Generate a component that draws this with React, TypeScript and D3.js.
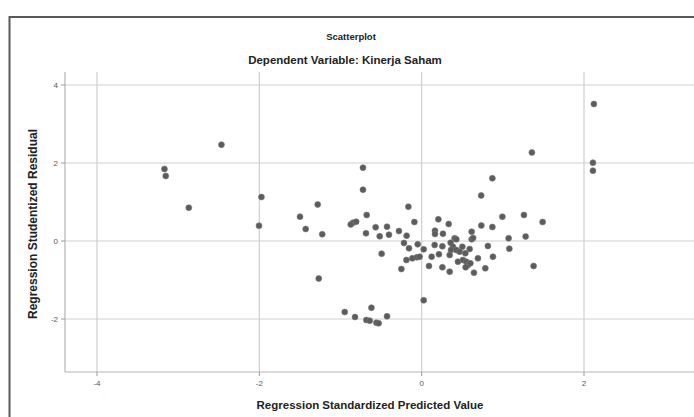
import React from "react";
import * as d3 from "d3";

const titleMain = "Scatterplot";
const titleSub = "Dependent Variable: Kinerja Saham";
const xLabel = "Regression Standardized Predicted Value";
const yLabel = "Regression Studentized Residual";
const xTicks = [-4, -2, 0, 2];
const yTicks = [-2, 0, 2, 4];

// predicted (standardized) values
const predicted = [
  -2.467, -3.169, -3.153, -2.869, -1.974, -2.004, -1.281, -1.499, -1.429, -1.225,
  -1.268, 1.358, -0.723, 0.871, -0.723, 0.733, -0.164, -0.677, 1.26, 0.994,
  -0.846, -0.807, -0.874, -0.09, 0.206, 0.333, 1.49, -0.567, -0.427, -0.686,
  -0.517, -0.403, -0.28, -0.185, 0.164, 0.164, 0.262, 0.735, 0.871, 0.616,
  0.616, 0.634, 1.071, 1.281, 0.406, 0.427, -0.218, -0.049, -0.156, 0.025,
  0.16, 0.255, 0.357, 0.385, 0.361, 0.427, 0.468, 0.501, 0.591, 0.816,
  1.08, -0.493, 0.213, 0.123, 0.345, 0.538, 0.693, 0.878, -0.188, -0.115,
  -0.058, -0.025, 0.447, 0.509, 0.55, 0.57, 0.6, 0.09, 0.255, 0.345,
  0.542, 0.784, 0.644, -0.25, 1.379, 0.025, -0.948, -0.619, -0.821, -0.681,
  -0.64, -0.558, -0.53, -0.427, 2.122, 2.11, 2.11,
];
// studentized residuals
const residual = [
  2.469, 1.846, 1.667, 0.854, 1.128, 0.392, 0.936, 0.623, 0.308, 0.172,
  -0.962, 2.269, 1.879, 1.608, 1.315, 1.167, 0.879, 0.667, 0.667, 0.623,
  0.469, 0.492, 0.423, 0.487, 0.556, 0.436, 0.487, 0.351, 0.367, 0.197,
  0.121, 0.162, 0.256, 0.136, 0.264, 0.179, 0.187, 0.397, 0.359, 0.238,
  0.044, 0.077, 0.069, 0.115, 0.069, 0.044, -0.051, -0.085, -0.187, -0.213,
  -0.103, -0.136, -0.044, -0.146, -0.231, -0.231, -0.274, -0.146, -0.205, -0.128,
  -0.197, -0.326, -0.341, -0.403, -0.359, -0.315, -0.444, -0.403, -0.487, -0.444,
  -0.418, -0.403, -0.531, -0.487, -0.531, -0.615, -0.572, -0.641, -0.674, -0.787,
  -0.674, -0.7, -0.813, -0.718, -0.641, -1.521, -1.821, -1.71, -1.949, -2.026,
  -2.044, -2.095, -2.11, -1.931, 3.513, 2.008, 1.803,
];

const W = 694;
const H = 417;
const FONT = "'Liberation Sans', Arial, sans-serif";

export default function App() {
  const x = d3.scaleLinear().domain([-4, 2]).range([97, 584]);
  const y = d3.scaleLinear().domain([-2, 4]).range([319, 85]);
  const left = 65, right = 710, top = 72, bottom = 372;
  const grid = "#cfcfcf";
  const points = predicted.map((p, i) => ({ px: x(p), py: y(residual[i]) }));
  return (
    <svg
      width={W}
      height={H}
      style={{ position: "fixed", left: 0, top: 0, background: "#fff" }}
      fontFamily={FONT}
    >
      <rect x={0} y={0} width={W} height={H} fill="#fff" />
      {/* outer frame */}
      <rect x={9.5} y={17} width={W + 20} height={H + 20} fill="none" stroke="#5a5a5a" strokeWidth={2} />
      <text x={351} y={40} textAnchor="middle" fontSize={9.5} fontWeight="bold" fill="#222">
        {titleMain}
      </text>
      <text x={345} y={64} textAnchor="middle" fontSize={11.5} fontWeight="bold" fill="#222">
        {titleSub}
      </text>
      {/* grid */}
      {xTicks.map((t) => (
        <line key={"gx" + t} x1={x(t)} x2={x(t)} y1={top} y2={bottom} stroke={grid} strokeWidth={1.2} />
      ))}
      {yTicks.map((t) => (
        <line key={"gy" + t} x1={left} x2={right} y1={y(t)} y2={y(t)} stroke={grid} strokeWidth={1.2} />
      ))}
      {/* axes */}
      <line x1={left} x2={left} y1={top} y2={bottom} stroke="#b5b5b5" strokeWidth={1.2} />
      <line x1={left} x2={right} y1={bottom} y2={bottom} stroke="#b5b5b5" strokeWidth={1.2} />
      {xTicks.map((t) => (
        <g key={"tx" + t}>
          <line x1={x(t)} x2={x(t)} y1={bottom} y2={bottom + 4} stroke="#999" />
          <text x={x(t)} y={bottom + 14} textAnchor="middle" fontSize={8} fill="#555">
            {t}
          </text>
        </g>
      ))}
      {yTicks.map((t) => (
        <g key={"ty" + t}>
          <line x1={left - 4} x2={left} y1={y(t)} y2={y(t)} stroke="#999" />
          <text x={left - 7} y={y(t) + 3} textAnchor="end" fontSize={8} fill="#555">
            {t}
          </text>
        </g>
      ))}
      <text x={370} y={409} textAnchor="middle" fontSize={11.5} fontWeight="bold" fill="#222">
        {xLabel}
      </text>
      <text
        transform={`translate(37,224) rotate(-90)`}
        textAnchor="middle"
        fontSize={12}
        fontWeight="bold"
        fill="#222"
      >
        {yLabel}
      </text>
      {points.map((d, i) => (
        <circle key={i} cx={d.px} cy={d.py} r={3} fill="#5c5c5c" stroke="#7a7a7a" strokeWidth={0.6} />
      ))}
    </svg>
  );
}
